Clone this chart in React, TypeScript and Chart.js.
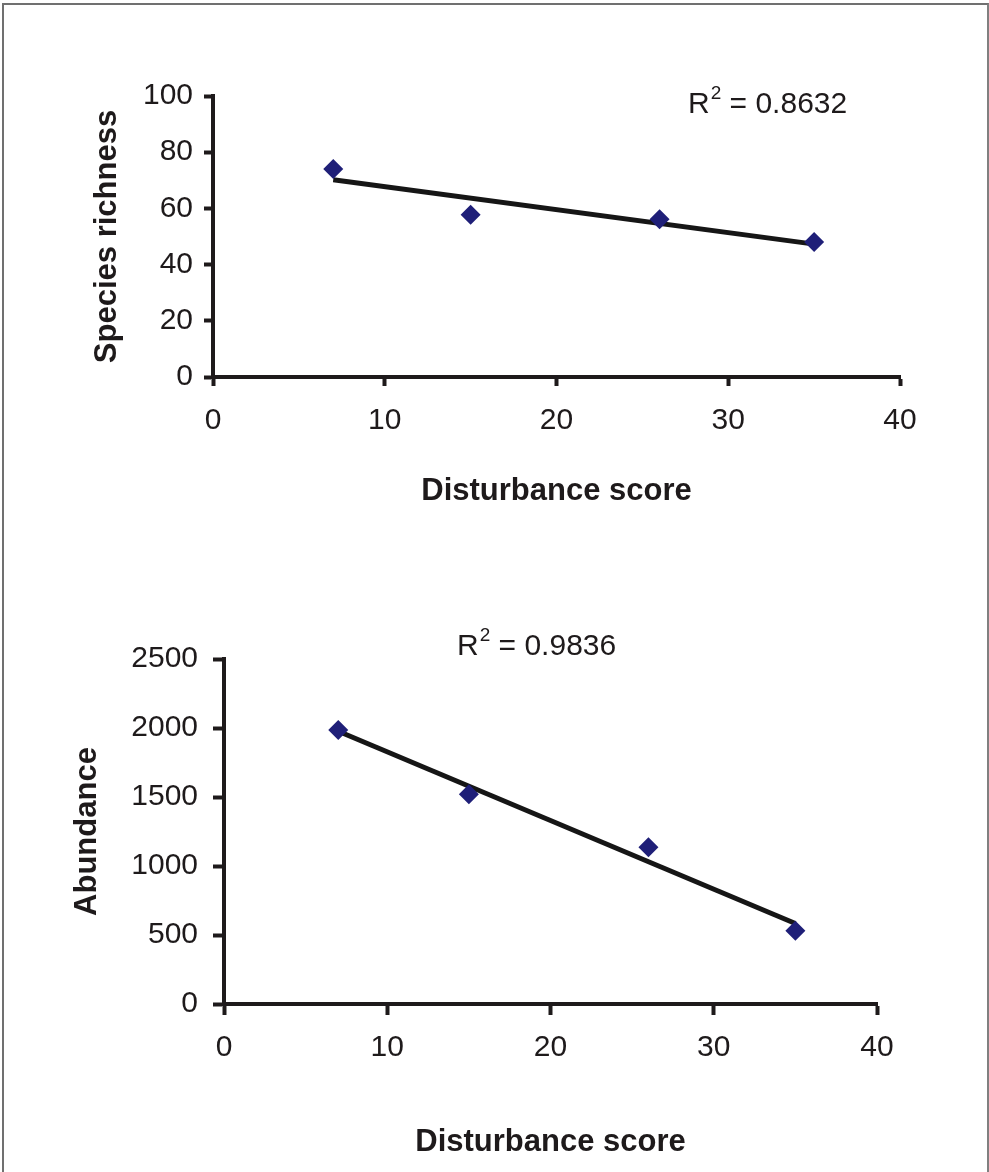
import React, { useEffect, useRef } from "react";
import { Chart, registerables } from "chart.js";

Chart.register(...registerables);

// ---- Data ----
const disturbanceScores = [7, 15, 26, 35];
const speciesRichness = [74, 57.7, 56.1, 48];
const abundance = [1985, 1520, 1135, 530];

const xTickValues = [0, 10, 20, 30, 40];
const richnessTickValues = [0, 20, 40, 60, 80, 100];
const abundanceTickValues = [0, 500, 1000, 1500, 2000, 2500];

const richnessR2 = "0.8632";
const abundanceR2 = "0.9836";

const xTitle = "Disturbance score";
const richnessTitle = "Species richness";
const abundanceTitle = "Abundance";

// ---- Styles ----
const FONT = '"Liberation Sans", Arial, Helvetica, sans-serif';
const TEXT = "#1e1a1b";
const MARKER = "#1f1f78";
const LINE = "#161616";

function linearFit(xs: number[], ys: number[]) {
  const n = xs.length;
  const mx = xs.reduce((a, b) => a + b, 0) / n;
  const my = ys.reduce((a, b) => a + b, 0) / n;
  let sxy = 0;
  let sxx = 0;
  for (let i = 0; i < n; i++) {
    sxy += (xs[i] - mx) * (ys[i] - my);
    sxx += (xs[i] - mx) * (xs[i] - mx);
  }
  const slope = sxy / sxx;
  const intercept = my - slope * mx;
  const x0 = Math.min(...xs);
  const x1 = Math.max(...xs);
  return [
    { x: x0, y: intercept + slope * x0 },
    { x: x1, y: intercept + slope * x1 },
  ];
}

type PanelProps = {
  top: number;
  height: number;
  ys: number[];
  yTicks: number[];
  yTitle: string;
  r2: string;
  r2x: number;
  r2y: number;
  yAxisWidth: number;
  padRight: number;
  padTop: number;
  xAxisHeight: number;
  yTitlePad: number;
  xTitlePad: number;
  tickLen: number;
  yTickPad: number;
  xTickPad: number;
};

function ScatterPanel(p: PanelProps) {
  const ref = useRef<HTMLCanvasElement | null>(null);

  useEffect(() => {
    if (!ref.current) return;
    const points = disturbanceScores.map((x, i) => ({ x, y: p.ys[i] }));
    const trend = linearFit(disturbanceScores, p.ys);

    const r2Plugin = {
      id: "r2Label",
      afterDraw(chart: any) {
        const ctx = chart.ctx as CanvasRenderingContext2D;
        ctx.save();
        ctx.fillStyle = TEXT;
        ctx.textAlign = "left";
        ctx.textBaseline = "alphabetic";
        let x = p.r2x;
        const y = p.r2y;
        ctx.font = `30px ${FONT}`;
        ctx.fillText("R", x, y);
        x += ctx.measureText("R").width + 1;
        ctx.font = `19px ${FONT}`;
        ctx.fillText("2", x, y - 14);
        x += ctx.measureText("2").width;
        ctx.font = `30px ${FONT}`;
        ctx.fillText(" = " + p.r2, x, y);
        ctx.restore();
      },
    };

    const tickFont = { family: FONT, size: 30 };
    const titleFont = { family: FONT, size: 31, weight: "bold" as const };

    const chart = new Chart(ref.current, {
      type: "scatter",
      data: {
        datasets: [
          {
            type: "scatter",
            data: points,
            pointStyle: "rectRot",
            pointRadius: 10,
            pointHoverRadius: 10,
            backgroundColor: MARKER,
            borderColor: MARKER,
            borderWidth: 0,
          },
          {
            type: "line",
            data: trend,
            borderColor: LINE,
            borderWidth: 5,
            pointRadius: 0,
            fill: false,
          } as any,
        ],
      },
      options: {
        animation: false,
        responsive: false,
        events: [],
        layout: {
          padding: { left: 0, right: p.padRight, top: p.padTop, bottom: 0 },
        },
        plugins: {
          legend: { display: false },
          tooltip: { enabled: false },
        },
        scales: {
          x: {
            type: "linear",
            position: "bottom",
            min: xTickValues[0],
            max: xTickValues[xTickValues.length - 1],
            afterFit: (s: any) => {
              s.height = p.xAxisHeight;
            },
            afterBuildTicks: (s: any) => {
              s.ticks = xTickValues.map((v) => ({ value: v }));
            },
            ticks: {
              font: tickFont,
              color: TEXT,
              padding: p.xTickPad,
              maxRotation: 0,
              autoSkip: false,
              callback: (v: any) => String(v),
            },
            grid: {
              display: true,
              drawOnChartArea: false,
              drawTicks: true,
              tickLength: p.tickLen,
              tickWidth: 4,
              tickColor: TEXT,
            },
            border: { display: true, color: TEXT, width: 4 },
            title: {
              display: true,
              text: xTitle,
              font: titleFont,
              color: TEXT,
              padding: { top: 0, bottom: p.xTitlePad },
            },
          },
          y: {
            type: "linear",
            position: "left",
            min: p.yTicks[0],
            max: p.yTicks[p.yTicks.length - 1],
            afterFit: (s: any) => {
              s.width = p.yAxisWidth;
            },
            afterBuildTicks: (s: any) => {
              s.ticks = p.yTicks.map((v) => ({ value: v }));
            },
            ticks: {
              font: tickFont,
              color: TEXT,
              padding: p.yTickPad,
              autoSkip: false,
              callback: (v: any) => String(v),
            },
            grid: {
              display: true,
              drawOnChartArea: false,
              drawTicks: true,
              tickLength: p.tickLen,
              tickWidth: 4,
              tickColor: TEXT,
            },
            border: { display: true, color: TEXT, width: 4 },
            title: {
              display: true,
              text: p.yTitle,
              font: titleFont,
              color: TEXT,
              padding: { top: p.yTitlePad, bottom: 0 },
            },
          },
        },
      },
      plugins: [r2Plugin],
    });
    return () => chart.destroy();
  }, []);

  return (
    <canvas
      ref={ref}
      width={989}
      height={p.height}
      style={{
        position: "absolute",
        left: 0,
        top: p.top,
        width: 989,
        height: p.height,
        display: "block",
      }}
    />
  );
}

export default function App() {
  return (
    <div
      style={{
        position: "absolute",
        left: 0,
        top: 0,
        width: 989,
        height: 1172,
        background: "#ffffff",
        overflow: "hidden",
      }}
    >
      <div
        style={{
          position: "absolute",
          left: 2,
          top: 3,
          width: 987,
          height: 1172,
          boxSizing: "border-box",
          borderLeft: "2px solid #707070",
          borderTop: "2px solid #707070",
          borderRight: "2px solid #808080",
        }}
      />
      <ScatterPanel
        top={0}
        height={560}
        ys={speciesRichness}
        yTicks={richnessTickValues}
        yTitle={richnessTitle}
        r2={richnessR2}
        r2x={688}
        r2y={113}
        yAxisWidth={213}
        padRight={89}
        padTop={96}
        xAxisHeight={183}
        yTitlePad={89}
        xTitlePad={50}
        tickLen={9}
        yTickPad={11}
        xTickPad={17}
      />
      <ScatterPanel
        top={560}
        height={612}
        ys={abundance}
        yTicks={abundanceTickValues}
        yTitle={abundanceTitle}
        r2={abundanceR2}
        r2x={457}
        r2y={95}
        yAxisWidth={224}
        padRight={112}
        padTop={99}
        xAxisHeight={168}
        yTitlePad={69}
        xTitlePad={11}
        tickLen={11}
        yTickPad={15}
        xTickPad={15}
      />
    </div>
  );
}
